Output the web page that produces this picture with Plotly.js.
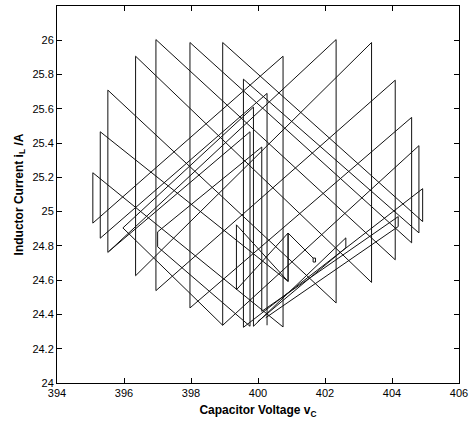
<!DOCTYPE html>
<html>
<head>
<meta charset="utf-8">
<script src="https://cdn.plot.ly/plotly-3.0.1.min.js"></script>
<style>html,body{margin:0;padding:0;background:#fff;}#chart{width:475px;height:430px;}</style>
</head>
<body>
<div id="chart"></div>
<script>
// Outer bow-tie loops: capacitor voltage (V) and inductor current (A)
const loop1V = [395.070, 395.070, 400.748, 400.748, 395.070];
const loop1I = [24.933, 25.227, 24.327, 25.907, 24.933];

const loop2V = [400.270, 400.270, 395.291, 395.291, 400.898, 400.898, 399.356, 399.356, 400.898, 400.898, 401.645, 401.645, 401.717, 401.717, 401.645];
const loop2I = [24.337, 25.690, 24.845, 25.466, 24.593, 24.875, 24.544, 24.923, 24.593, 24.875, 24.729, 24.706, 24.706, 24.729, 24.729];

const loop3V = [395.518, 395.518, 402.332, 402.332, 395.518];
const loop3I = [24.762, 25.709, 24.467, 26.004, 24.762];

const loop4V = [396.346, 396.346, 403.390, 403.390, 396.346];
const loop4I = [24.626, 25.907, 24.587, 25.987, 24.626];

const loop5V = [396.953, 396.953, 404.096, 404.096, 396.953];
const loop5I = [24.539, 26.004, 24.719, 25.767, 24.539];

const loop6V = [397.969, 397.969, 404.586, 404.586, 397.969];
const loop6I = [24.438, 25.987, 24.818, 25.550, 24.438];

const loop7V = [398.946, 398.946, 404.915, 404.915, 399.565, 399.565, 404.804, 404.804, 398.946];
const loop7I = [24.337, 25.987, 24.942, 25.134, 24.325, 25.773, 24.876, 25.385, 24.337];

// Inner chevrons and U-turns near the operating point
const innerAV = [395.967, 399.864, 399.864, 402.622, 402.622, 399.992];
const innerAI = [24.905, 25.610, 24.331, 24.847, 24.789, 24.358];

const innerBV = [400.112, 397.004, 397.004, 399.762, 399.762, 395.560];
const innerBI = [25.377, 24.882, 24.795, 24.331, 25.466, 24.770];

const innerCV = [400.112, 400.112, 404.185, 404.185, 400.231];
const innerCI = [25.377, 24.418, 24.971, 24.913, 24.381];

const innerDV = [395.967, 398.946];
const innerDI = [24.905, 24.337];

const pathsV = [loop1V, loop2V, loop3V, loop4V, loop5V, loop6V, loop7V, innerAV, innerBV, innerCV, innerDV];
const pathsI = [loop1I, loop2I, loop3I, loop4I, loop5I, loop6I, loop7I, innerAI, innerBI, innerCI, innerDI];

const xs = [], ys = [];
pathsV.forEach((pv, k) => {
  pv.forEach((v, j) => { xs.push(v); ys.push(pathsI[k][j]); });
  xs.push(null); ys.push(null);
});

const xTicks = [394, 396, 398, 400, 402, 404, 406];
const yTicks = [24, 24.2, 24.4, 24.6, 24.8, 25, 25.2, 25.4, 25.6, 25.8, 26];
const yTickText = ['24', '24.2', '24.4', '24.6', '24.8', '25', '25.2', '25.4', '25.6', '25.8', '26'];

const font = {family: 'Liberation Sans, Arial, sans-serif', size: 11, color: '#000'};

Plotly.newPlot('chart', [{
  x: xs, y: ys, type: 'scatter', mode: 'lines',
  line: {color: '#111', width: 1},
  connectgaps: false, hoverinfo: 'skip', showlegend: false
}], {
  width: 475, height: 430,
  margin: {l: 57, r: 16, t: 6, b: 47, pad: 0},
  paper_bgcolor: '#fff', plot_bgcolor: '#fff',
  font: font,
  xaxis: {
    range: [394, 406], tickvals: xTicks, ticktext: xTicks.map(String),
    ticks: 'inside', ticklen: 5, tickcolor: '#000', mirror: 'ticks',
    showline: true, linecolor: '#000', linewidth: 1,
    showgrid: false, zeroline: false, tickfont: font,
    title: {text: '<b>Capacitor Voltage v<sub>C</sub></b>', font: {family: 'Liberation Sans, Arial, sans-serif', size: 12, color: '#000'}, standoff: 7}
  },
  yaxis: {
    range: [24, 26.2], tickvals: yTicks, ticktext: yTickText,
    ticks: 'inside', ticklen: 5, tickcolor: '#000', mirror: 'ticks',
    showline: true, linecolor: '#000', linewidth: 1,
    showgrid: false, zeroline: false, tickfont: font,
    title: {text: '<b>Inductor Current i<sub>L</sub> /A</b>', font: {family: 'Liberation Sans, Arial, sans-serif', size: 12, color: '#000'}, standoff: 6}
  }
}, {staticPlot: true, displayModeBar: false});
</script>
</body>
</html>
